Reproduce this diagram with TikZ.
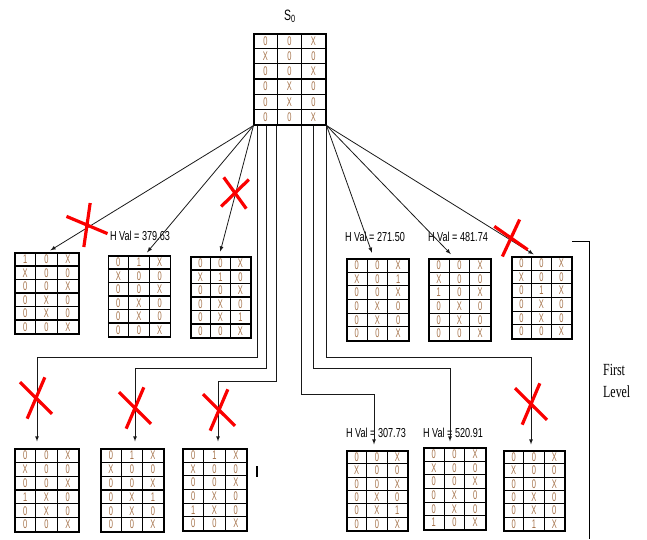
\documentclass[tikz,border=0pt]{standalone}
\usepackage{fontspec}
\setmainfont{Liberation Sans}
\newfontfamily\narrowsans[FakeStretch=0.7]{Liberation Sans}
\newfontfamily\cellsans[FakeStretch=0.6]{Liberation Sans}
\newfontfamily\narrowserif[FakeStretch=0.7]{Liberation Serif}
\usetikzlibrary{arrows,shapes.misc,calc}
\definecolor{cellink}{RGB}{165,115,75}
\definecolor{crossred}{RGB}{250,0,0}

\tikzset{
  board/.style={draw, rectangle, inner sep=0pt, line width=1.1pt},
  gridline/.style={line width=1.1pt},
  cell/.style={inner sep=0pt, text=cellink, font=\cellsans\fontsize{12.5}{12.5}\selectfont},
  hval/.style={inner sep=1pt, font=\narrowsans\fontsize{13}{13}\selectfont},
  conn/.style={-latex, line width=0.8pt, draw=black!90},
  pruned/.style={cross out, draw=crossred, line width=3.2pt, inner sep=0pt}
}

% #1 name, #2 centre, #3 width, #4 height, #5 rows
\newcommand{\board}[5]{%
  \node[board, minimum width=#3pt, minimum height=#4pt] (#1) at (#2) {};
  \begin{scope}[shift={(#1.north west)}]
    \foreach \i in {1,2} \draw[gridline] (\i*#3/3,0) -- ++(0,#4);
    \foreach \j in {1,...,5} \draw[gridline] (0,\j*#4/6) -- ++(#3,0);
    \foreach \ca/\cb/\cc [count=\row] in {#5} {
      \node[cell] (#1-\row-1) at (#3/6,{(\row-0.5)*#4/6}) {\ca};
      \node[cell] (#1-\row-2) at (#3/2,{(\row-0.5)*#4/6}) {\cb};
      \node[cell] (#1-\row-3) at (5*#3/6,{(\row-0.5)*#4/6}) {\cc};
    }
  \end{scope}}

\begin{document}
\begin{tikzpicture}[x=1pt, y=-1pt]
\useasboundingbox (0,0) rectangle (647,539);

\node[font=\narrowsans\fontsize{15}{15}\selectfont, inner sep=0pt] (s0) at (290,16) {S\textsubscript{0}};
\board{root}{290,79.5}{72}{91}{0/0/X, X/0/0, 0/0/X, 0/X/0, 0/X/0, 0/0/X}

% first row of successors
\board{A}{47,293.5}{64}{81}{1/0/X, X/0/0, 0/0/X, 0/X/0, 0/X/0, 0/0/X}
\board{B}{139.5,296.5}{62}{81}{0/1/X, X/0/0, 0/0/X, 0/X/0, 0/X/0, 0/0/X}
\board{C}{221,297.5}{60}{81}{0/0/X, X/1/0, 0/0/X, 0/X/0, 0/X/1, 0/0/X}
\board{D}{378,300}{62}{82}{0/0/X, X/0/1, 0/0/X, 0/X/0, 0/X/0, 0/0/X}
\board{E}{460,300}{62}{82}{0/0/X, X/0/0, 1/0/X, 0/X/0, 0/X/0, 0/0/X}
\board{F}{542,298}{60}{82}{0/0/X, X/0/0, 0/1/X, 0/X/0, 0/X/0, 0/0/X}

% second row of successors
\board{G}{47,490.5}{64}{83}{0/0/X, X/0/0, 0/0/X, 1/X/0, 0/X/0, 0/0/X}
\board{H}{132.5,490.5}{63}{83}{0/1/X, X/0/0, 0/0/X, 0/X/1, 0/X/0, 0/0/X}
\board{I}{215,490}{64}{82}{0/1/X, X/0/0, 0/0/X, 0/X/0, 1/X/0, 0/0/X}
\board{J}{377.5,491}{61}{80}{0/0/X, X/0/0, 0/0/X, 0/X/0, 0/X/1, 0/0/X}
\board{K}{455,489}{62}{82}{0/0/X, X/0/0, 0/0/X, 0/X/0, 0/X/0, 1/0/X}
\board{L}{534.5,491}{61}{80}{0/0/X, X/0/0, 0/0/X, 0/X/0, 0/X/0, 0/1/X}

\node[hval] (hB) at (140,236) {H Val = 379.63};
\node[hval] (hD) at (375,237) {H Val = 271.50};
\node[hval] (hE) at (458,237) {H Val = 481.74};
\node[hval] (hJ) at (376,432.5) {H Val = 307.73};
\node[hval] (hK) at (453,432.5) {H Val = 520.91};

\draw[conn, shorten >=4pt] (root.south west) -- (A.north);
\draw[conn, shorten >=4pt] (root.south west) -- ([xshift=5pt]B.north);
\draw[conn, shorten >=5pt] (root.south west) -- ([xshift=-2pt]C.north);
\draw[conn, shorten >=6pt] (root.south east) -- ([xshift=-4pt]D.north);
\draw[conn, shorten >=6pt] (root.south east) -- ([xshift=-5pt]E.north);
\draw[conn, shorten >=4pt] (root.south east) -- ([xshift=-5pt]F.north);

\draw[conn, shorten >=7pt] ([xshift=4pt]root.south west) -- ++(0,232) -| ([xshift=-10pt]G.north);
\draw[conn, shorten >=7pt] ([xshift=13pt]root.south west) -- ++(0,243) -| ([xshift=2.5pt]H.north);
\draw[conn, shorten >=7pt] ([xshift=23pt]root.south west) -- ++(0,256) -| ([xshift=3pt]I.north);
\draw[conn, shorten >=6pt] ([xshift=-25pt]root.south east) -- ++(0,269) -| ([xshift=-3.5pt]J.north);
\draw[conn, shorten >=6pt] ([xshift=-13pt]root.south east) -- ++(0,243) -| ([xshift=-5pt]K.north);
\draw[conn, shorten >=6pt] (root.south east) -- ++(0,232) -| ([xshift=-3.5pt]L.north);

% pruned branches
\node[pruned, minimum width=24pt, minimum height=32pt, rotate=29.5] (xA) at (87,225) {};
\node[pruned, minimum width=22pt, minimum height=26pt, rotate=-5] (xC) at (235,193) {};
\node[pruned, minimum width=23pt, minimum height=28pt, rotate=15] (xF) at (511,238) {};
\node[pruned, minimum width=22pt, minimum height=34pt, rotate=11] (xG) at (36,398) {};
\node[pruned, minimum width=22pt, minimum height=34pt, rotate=11] (xH) at (135,408) {};
\node[pruned, minimum width=22pt, minimum height=34pt, rotate=11] (xI) at (219,410) {};
\node[pruned, minimum width=22pt, minimum height=34pt, rotate=11] (xL) at (531,404) {};

\draw[line width=1.3pt] (257,466) -- (257,477);

\draw[line width=0.8pt] (572,241) -| (589,539);
\node[font=\narrowserif\fontsize{17}{22}\selectfont, align=left, inner sep=0pt, anchor=west] (lvl) at (603,381) {First\\Level};
\end{tikzpicture}
\end{document}
